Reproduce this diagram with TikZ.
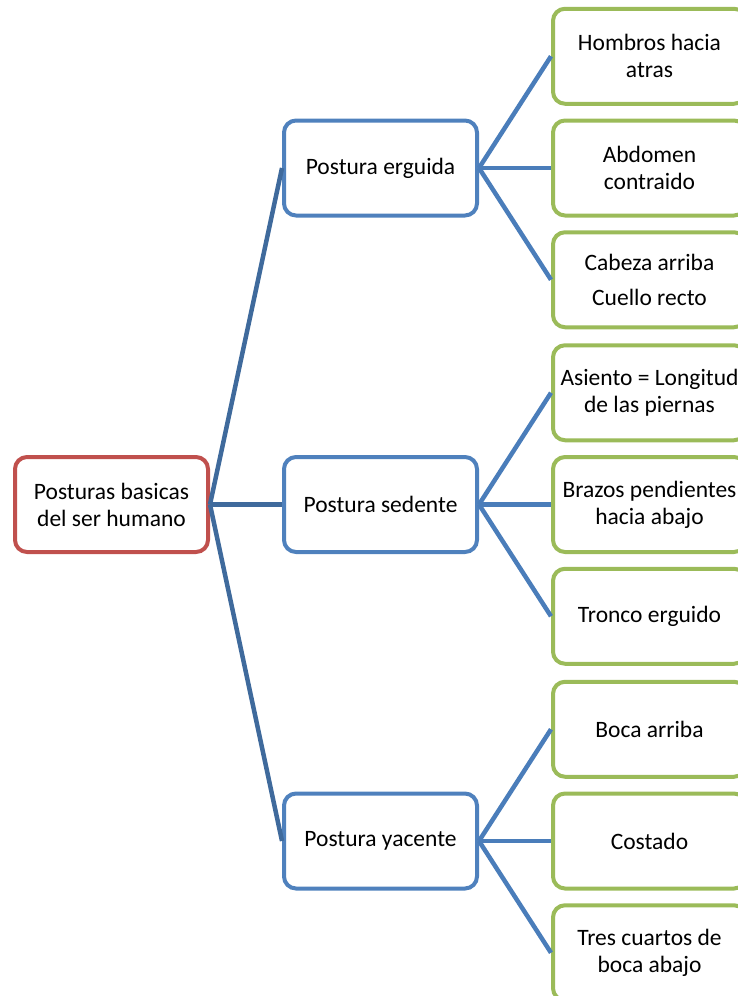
\documentclass[tikz,border=0pt]{standalone}
\usepackage{fontspec}
\setmainfont{Carlito}
\usepackage{xcolor}
\usetikzlibrary{positioning, calc}
\definecolor{rootred}{HTML}{C0504D}
\definecolor{midblue}{HTML}{4F81BD}
\definecolor{leafgreen}{HTML}{9BBB59}
\definecolor{linkdark}{HTML}{3F6A9C}
\definecolor{linkblue}{HTML}{4A7DBA}

\begin{document}
\begin{tikzpicture}[x=1pt, y=-1pt, grow'=right, level distance=269pt,
    every node/.style={rectangle, draw, rounded corners=12pt, line width=4pt, fill=white,
        minimum width=193pt, minimum height=95pt, align=center,
        font=\fontsize{23.5}{27}\selectfont},
    edge from parent path={(\tikzparentnode.east) -- (\tikzchildnode.west)},
    level 1/.style={sibling distance=336.5pt,
        edge from parent/.style={draw, line width=4.5pt, linkdark}},
    level 2/.style={sibling distance=111.75pt,
        edge from parent/.style={draw, line width=4.5pt, linkblue}}]
    \useasboundingbox (0,0) rectangle (738,996);
    \node[draw=rootred] (root) at (111.5,504.5) {Posturas basicas\\del ser humano}
        child {node[draw=midblue] (erguida) {Postura erguida}
            child {node[draw=leafgreen] (hombros) {Hombros hacia\\atras}}
            child {node[draw=leafgreen] (abdomen) {Abdomen\\contraido}}
            child {node[draw=leafgreen] (cabeza) {Cabeza arriba\\[8pt]Cuello recto}}
        }
        child {node[draw=midblue] (sedente) {Postura sedente}
            child {node[draw=leafgreen] (asiento) {Asiento = Longitud\\de las piernas}}
            child {node[draw=leafgreen] (brazos) {Brazos pendientes\\hacia abajo}}
            child {node[draw=leafgreen] (tronco) {Tronco erguido}}
        }
        child {node[draw=midblue] (yacente) {Postura yacente}
            child {node[draw=leafgreen] (bocaarriba) {Boca arriba}}
            child {node[draw=leafgreen] (costado) {Costado}}
            child {node[draw=leafgreen] (trescuartos) {Tres cuartos de\\boca abajo}}
        };
\end{tikzpicture}
\end{document}
